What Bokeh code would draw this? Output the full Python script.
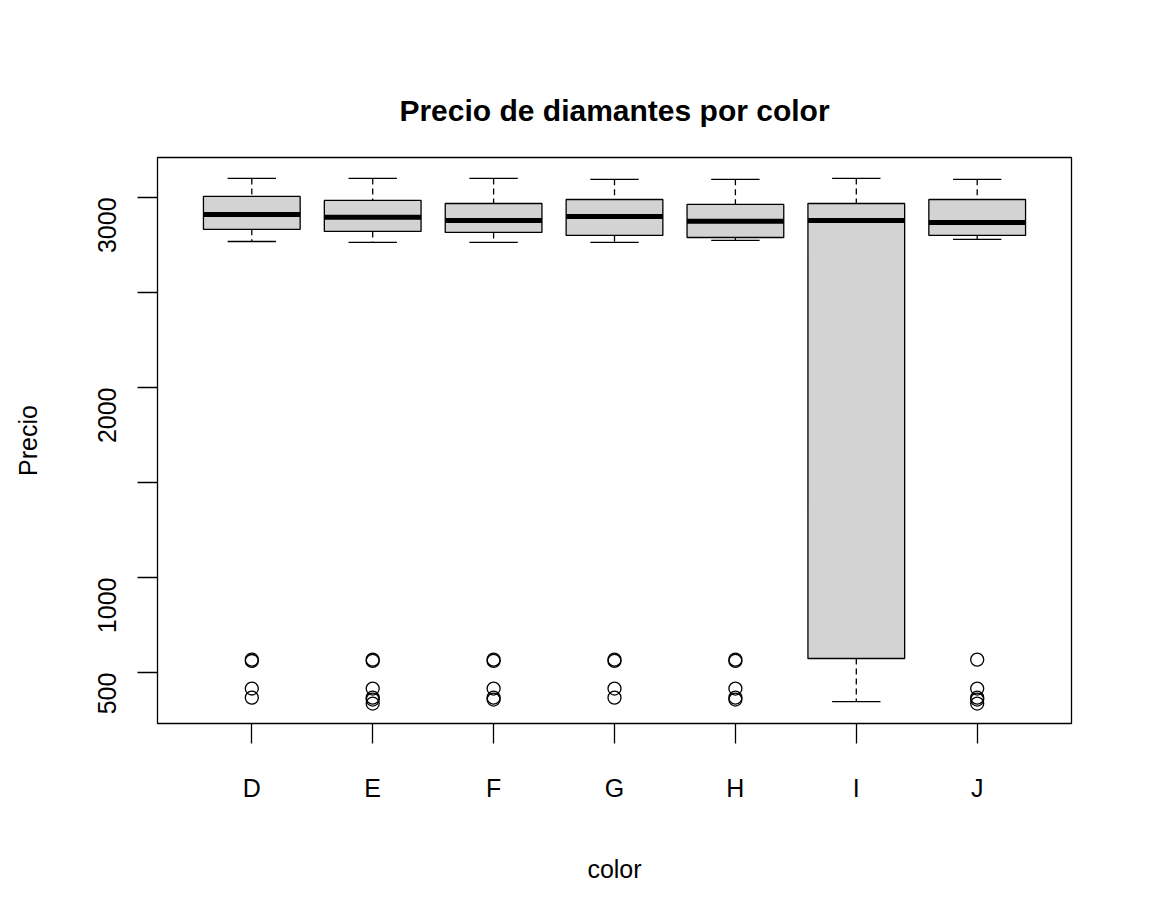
from bokeh.plotting import figure
from bokeh.models import Range1d, FixedTicker
from bokeh.embed import file_html
from bokeh.resources import INLINE

cats = ["D", "E", "F", "G", "H", "I", "J"]
whisk_hi = [3100, 3100, 3100, 3095, 3095, 3100, 3095]
q3 = [3005, 2984, 2968, 2989, 2963, 2968, 2989]
med = [2910, 2895, 2879, 2900, 2874, 2879, 2868]
q1 = [2832, 2821, 2816, 2800, 2789, 574, 2800]
whisk_lo = [2768, 2763, 2763, 2763, 2774, 347, 2779]
outliers = {
    "D": [568, 561, 416, 368],
    "E": [568, 561, 416, 368, 358, 337],
    "F": [568, 561, 416, 368, 358],
    "G": [568, 561, 416, 368],
    "H": [568, 561, 416, 368, 358],
    "I": [],
    "J": [568, 416, 368, 358, 337],
}

xs = list(range(1, len(cats) + 1))
F = "Liberation Sans"

p = figure(width=1136, height=905, output_backend="svg", toolbar_location=None,
           x_range=Range1d(0.22, 7.78), y_range=Range1d(232, 3210),
           min_border_left=157, min_border_right=65, min_border_top=157, min_border_bottom=182)
p.grid.visible = False
p.outline_line_color = "black"
p.outline_line_width = 1.3
p.background_fill_color = "white"

p.title.text = "Precio de diamantes por color"
p.title.align = "center"
p.title.text_font = F
p.title.text_font_size = "30px"
p.title.text_font_style = "bold"
p.title.text_color = "black"
p.title.standoff = 62

p.segment(xs, whisk_hi, xs, q3, line_color="black", line_dash="6 4", line_width=1.3)
p.segment(xs, q1, xs, whisk_lo, line_color="black", line_dash="6 4", line_width=1.3)
p.segment([x - 0.2 for x in xs], whisk_hi, [x + 0.2 for x in xs], whisk_hi, line_color="black", line_width=1.3)
p.segment([x - 0.2 for x in xs], whisk_lo, [x + 0.2 for x in xs], whisk_lo, line_color="black", line_width=1.3)
p.quad(left=[x - 0.4 for x in xs], right=[x + 0.4 for x in xs], bottom=q1, top=q3,
       fill_color="#d3d3d3", line_color="black", line_width=1.3)
p.segment([x - 0.4 for x in xs], med, [x + 0.4 for x in xs], med, line_color="black", line_width=5)

ox, oy = [], []
for i, c in enumerate(cats):
    for v in outliers[c]:
        ox.append(i + 1)
        oy.append(v)
p.scatter(ox, oy, size=13, fill_color=None, line_color="black", line_width=1.3)

for ax in (p.xaxis[0], p.yaxis[0]):
    ax.axis_line_color = None
    ax.major_tick_out = 20
    ax.major_tick_in = 0
    ax.minor_tick_line_color = None
    ax.major_tick_line_width = 1.3
    ax.major_tick_line_color = "black"
    ax.major_label_text_font = F
    ax.major_label_text_font_size = "25px"
    ax.major_label_text_color = "black"
    ax.axis_label_text_font = F
    ax.axis_label_text_font_size = "25px"
    ax.axis_label_text_font_style = "normal"
    ax.axis_label_text_color = "black"

p.xaxis.ticker = FixedTicker(ticks=xs)
p.xaxis.major_label_overrides = {i + 1: c for i, c in enumerate(cats)}
p.xaxis.major_label_standoff = 30
p.xaxis.axis_label = "color"
p.xaxis.axis_label_standoff = 50

p.yaxis.ticker = FixedTicker(ticks=[500, 1000, 1500, 2000, 2500, 3000])
p.yaxis.major_label_overrides = {1500: "", 2500: ""}
p.yaxis.major_label_orientation = 1.5708
p.yaxis.major_label_standoff = 30
p.yaxis.axis_label = "Precio"
p.yaxis.axis_label_standoff = 45

open("out.html", "w").write(file_html(p, INLINE))
